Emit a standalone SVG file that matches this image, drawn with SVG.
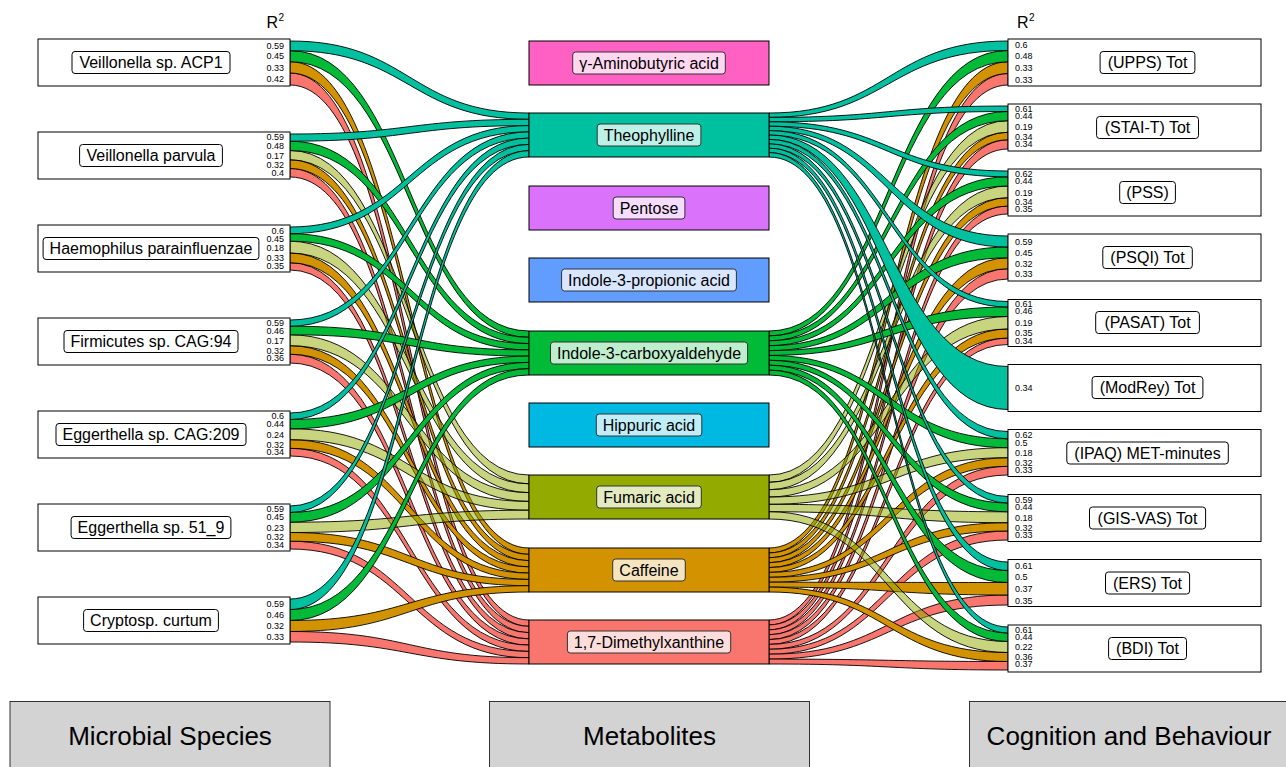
<svg xmlns="http://www.w3.org/2000/svg" width="1286" height="767" viewBox="0 0 1286 767">
<style>
text{font-family:"Liberation Sans",Arial,Helvetica,sans-serif;fill:#000}
.rb{stroke:#000;stroke-width:0.9}
.t{fill:#00C19F}.g{fill:#00BA38}.p{fill:#93AA00;fill-opacity:0.5}.o{fill:#D39200}.d{fill:#F8766D}
.box{fill:#fff;stroke:#000;stroke-width:1}
.mbox{stroke:#000;stroke-width:1}
.lbl{fill:#fff;stroke:#000;stroke-width:1}
.mlbl{stroke:#333;stroke-width:1}
.nt{font-size:16px;text-anchor:middle}
.rl{font-size:9px;text-anchor:end}
.rr{font-size:9px;text-anchor:start}
.cat{fill:#D3D3D3;stroke:#333;stroke-width:1}
.ct{font-size:26px;text-anchor:middle}
</style>
<rect width="1286" height="767" fill="#fff"/>
<g id="connectors">
<g id="left-links">
<path class="rb d" d="M290,73 C409.5,73 409.5,620 529,620 L529,626.3 C409.5,626.3 409.5,85 290,85Z"/>
<path class="rb d" d="M290,168.5 C409.5,168.5 409.5,626.3 529,626.3 L529,632.6 C409.5,632.6 409.5,177 290,177Z"/>
<path class="rb d" d="M290,262.7 C409.5,262.7 409.5,632.6 529,632.6 L529,638.9 C409.5,638.9 409.5,270 290,270Z"/>
<path class="rb d" d="M290,354.2 C409.5,354.2 409.5,638.9 529,638.9 L529,645.1 C409.5,645.1 409.5,363 290,363Z"/>
<path class="rb d" d="M290,448.3 C409.5,448.3 409.5,645.1 529,645.1 L529,651.4 C409.5,651.4 409.5,456 290,456Z"/>
<path class="rb d" d="M290,541.2 C409.5,541.2 409.5,651.4 529,651.4 L529,657.7 C409.5,657.7 409.5,549 290,549Z"/>
<path class="rb d" d="M290,631.5 C409.5,631.5 409.5,657.7 529,657.7 L529,664 C409.5,664 409.5,642 290,642Z"/>
<path class="rb o" d="M290,61.7 C409.5,61.7 409.5,548 529,548 L529,554.3 C409.5,554.3 409.5,73 290,73Z"/>
<path class="rb o" d="M290,159.8 C409.5,159.8 409.5,554.3 529,554.3 L529,560.6 C409.5,560.6 409.5,168.5 290,168.5Z"/>
<path class="rb o" d="M290,253 C409.5,253 409.5,560.6 529,560.6 L529,566.9 C409.5,566.9 409.5,262.7 290,262.7Z"/>
<path class="rb o" d="M290,345.7 C409.5,345.7 409.5,566.9 529,566.9 L529,573.1 C409.5,573.1 409.5,354.2 290,354.2Z"/>
<path class="rb o" d="M290,439.7 C409.5,439.7 409.5,573.1 529,573.1 L529,579.4 C409.5,579.4 409.5,448.3 290,448.3Z"/>
<path class="rb o" d="M290,532.5 C409.5,532.5 409.5,579.4 529,579.4 L529,585.7 C409.5,585.7 409.5,541.2 290,541.2Z"/>
<path class="rb o" d="M290,620.5 C409.5,620.5 409.5,585.7 529,585.7 L529,592 C409.5,592 409.5,631.5 290,631.5Z"/>
<path class="rb p" d="M290,150.5 C409.5,150.5 409.5,475 529,475 L529,483.8 C409.5,483.8 409.5,159.8 290,159.8Z"/>
<path class="rb p" d="M290,241.2 C409.5,241.2 409.5,483.8 529,483.8 L529,492.6 C409.5,492.6 409.5,253 290,253Z"/>
<path class="rb p" d="M290,334.8 C409.5,334.8 409.5,492.6 529,492.6 L529,501.4 C409.5,501.4 409.5,345.7 290,345.7Z"/>
<path class="rb p" d="M290,428.8 C409.5,428.8 409.5,501.4 529,501.4 L529,510.2 C409.5,510.2 409.5,439.7 290,439.7Z"/>
<path class="rb p" d="M290,522.2 C409.5,522.2 409.5,510.2 529,510.2 L529,519 C409.5,519 409.5,532.5 290,532.5Z"/>
<path class="rb g" d="M290,50.7 C409.5,50.7 409.5,331 529,331 L529,337.3 C409.5,337.3 409.5,61.7 290,61.7Z"/>
<path class="rb g" d="M290,141.2 C409.5,141.2 409.5,337.3 529,337.3 L529,343.6 C409.5,343.6 409.5,150.5 290,150.5Z"/>
<path class="rb g" d="M290,233.7 C409.5,233.7 409.5,343.6 529,343.6 L529,349.9 C409.5,349.9 409.5,241.2 290,241.2Z"/>
<path class="rb g" d="M290,326.2 C409.5,326.2 409.5,349.9 529,349.9 L529,356.1 C409.5,356.1 409.5,334.8 290,334.8Z"/>
<path class="rb g" d="M290,419.5 C409.5,419.5 409.5,356.1 529,356.1 L529,362.4 C409.5,362.4 409.5,428.8 290,428.8Z"/>
<path class="rb g" d="M290,512.5 C409.5,512.5 409.5,362.4 529,362.4 L529,368.7 C409.5,368.7 409.5,522.2 290,522.2Z"/>
<path class="rb g" d="M290,609.5 C409.5,609.5 409.5,368.7 529,368.7 L529,375 C409.5,375 409.5,620.5 290,620.5Z"/>
<path class="rb t" d="M290,41 C409.5,41 409.5,113 529,113 L529,119.3 C409.5,119.3 409.5,50.7 290,50.7Z"/>
<path class="rb t" d="M290,134 C409.5,134 409.5,119.3 529,119.3 L529,125.6 C409.5,125.6 409.5,141.2 290,141.2Z"/>
<path class="rb t" d="M290,227 C409.5,227 409.5,125.6 529,125.6 L529,131.9 C409.5,131.9 409.5,233.7 290,233.7Z"/>
<path class="rb t" d="M290,320 C409.5,320 409.5,131.9 529,131.9 L529,138.1 C409.5,138.1 409.5,326.2 290,326.2Z"/>
<path class="rb t" d="M290,413 C409.5,413 409.5,138.1 529,138.1 L529,144.4 C409.5,144.4 409.5,419.5 290,419.5Z"/>
<path class="rb t" d="M290,506 C409.5,506 409.5,144.4 529,144.4 L529,150.7 C409.5,150.7 409.5,512.5 290,512.5Z"/>
<path class="rb t" d="M290,599 C409.5,599 409.5,150.7 529,150.7 L529,157 C409.5,157 409.5,609.5 290,609.5Z"/>
</g>
<g id="right-links">
<path class="rb d" d="M769,620 C888.5,620 888.5,73.5 1008,73.5 L1008,85 C888.5,85 888.5,624.9 769,624.9Z"/>
<path class="rb d" d="M769,624.9 C888.5,624.9 888.5,139.8 1008,139.8 L1008,149 C888.5,149 888.5,629.8 769,629.8Z"/>
<path class="rb d" d="M769,629.8 C888.5,629.8 888.5,206 1008,206 L1008,214 C888.5,214 888.5,634.7 769,634.7Z"/>
<path class="rb d" d="M769,634.7 C888.5,634.7 888.5,268.7 1008,268.7 L1008,279 C888.5,279 888.5,639.6 769,639.6Z"/>
<path class="rb d" d="M769,639.6 C888.5,639.6 888.5,338 1008,338 L1008,344.5 C888.5,344.5 888.5,644.4 769,644.4Z"/>
<path class="rb d" d="M769,644.4 C888.5,644.4 888.5,466.3 1008,466.3 L1008,475 C888.5,475 888.5,649.3 769,649.3Z"/>
<path class="rb d" d="M769,649.3 C888.5,649.3 888.5,531 1008,531 L1008,540 C888.5,540 888.5,654.2 769,654.2Z"/>
<path class="rb d" d="M769,654.2 C888.5,654.2 888.5,595 1008,595 L1008,605 C888.5,605 888.5,659.1 769,659.1Z"/>
<path class="rb d" d="M769,659.1 C888.5,659.1 888.5,661.5 1008,661.5 L1008,670 C888.5,670 888.5,664 769,664Z"/>
<path class="rb o" d="M769,548 C888.5,548 888.5,61.8 1008,61.8 L1008,73.5 C888.5,73.5 888.5,552.9 769,552.9Z"/>
<path class="rb o" d="M769,552.9 C888.5,552.9 888.5,132.3 1008,132.3 L1008,139.8 C888.5,139.8 888.5,557.8 769,557.8Z"/>
<path class="rb o" d="M769,557.8 C888.5,557.8 888.5,197.7 1008,197.7 L1008,206 C888.5,206 888.5,562.7 769,562.7Z"/>
<path class="rb o" d="M769,562.7 C888.5,562.7 888.5,257.8 1008,257.8 L1008,268.7 C888.5,268.7 888.5,567.6 769,567.6Z"/>
<path class="rb o" d="M769,567.6 C888.5,567.6 888.5,329 1008,329 L1008,338 C888.5,338 888.5,572.4 769,572.4Z"/>
<path class="rb o" d="M769,572.4 C888.5,572.4 888.5,457.7 1008,457.7 L1008,466.3 C888.5,466.3 888.5,577.3 769,577.3Z"/>
<path class="rb o" d="M769,577.3 C888.5,577.3 888.5,522.7 1008,522.7 L1008,531 C888.5,531 888.5,582.2 769,582.2Z"/>
<path class="rb o" d="M769,582.2 C888.5,582.2 888.5,582.5 1008,582.5 L1008,595 C888.5,595 888.5,587.1 769,587.1Z"/>
<path class="rb o" d="M769,587.1 C888.5,587.1 888.5,652.5 1008,652.5 L1008,661.5 C888.5,661.5 888.5,592 769,592Z"/>
<path class="rb p" d="M769,475 C888.5,475 888.5,120.7 1008,120.7 L1008,132.3 C888.5,132.3 888.5,482.3 769,482.3Z"/>
<path class="rb p" d="M769,482.3 C888.5,482.3 888.5,186 1008,186 L1008,197.7 C888.5,197.7 888.5,489.7 769,489.7Z"/>
<path class="rb p" d="M769,489.7 C888.5,489.7 888.5,316.5 1008,316.5 L1008,329 C888.5,329 888.5,497 769,497Z"/>
<path class="rb p" d="M769,497 C888.5,497 888.5,447.7 1008,447.7 L1008,457.7 C888.5,457.7 888.5,504.3 769,504.3Z"/>
<path class="rb p" d="M769,504.3 C888.5,504.3 888.5,511.8 1008,511.8 L1008,522.7 C888.5,522.7 888.5,511.7 769,511.7Z"/>
<path class="rb p" d="M769,511.7 C888.5,511.7 888.5,641.5 1008,641.5 L1008,652.5 C888.5,652.5 888.5,519 769,519Z"/>
<path class="rb g" d="M769,331 C888.5,331 888.5,50.5 1008,50.5 L1008,61.8 C888.5,61.8 888.5,335.9 769,335.9Z"/>
<path class="rb g" d="M769,335.9 C888.5,335.9 888.5,111.5 1008,111.5 L1008,120.7 C888.5,120.7 888.5,340.8 769,340.8Z"/>
<path class="rb g" d="M769,340.8 C888.5,340.8 888.5,176.8 1008,176.8 L1008,186 C888.5,186 888.5,345.7 769,345.7Z"/>
<path class="rb g" d="M769,345.7 C888.5,345.7 888.5,247 1008,247 L1008,257.8 C888.5,257.8 888.5,350.6 769,350.6Z"/>
<path class="rb g" d="M769,350.6 C888.5,350.6 888.5,307 1008,307 L1008,316.5 C888.5,316.5 888.5,355.4 769,355.4Z"/>
<path class="rb g" d="M769,355.4 C888.5,355.4 888.5,438.8 1008,438.8 L1008,447.7 C888.5,447.7 888.5,360.3 769,360.3Z"/>
<path class="rb g" d="M769,360.3 C888.5,360.3 888.5,503 1008,503 L1008,511.8 C888.5,511.8 888.5,365.2 769,365.2Z"/>
<path class="rb g" d="M769,365.2 C888.5,365.2 888.5,570.5 1008,570.5 L1008,582.5 C888.5,582.5 888.5,370.1 769,370.1Z"/>
<path class="rb g" d="M769,370.1 C888.5,370.1 888.5,633 1008,633 L1008,641.5 C888.5,641.5 888.5,375 769,375Z"/>
<path class="rb t" d="M769,113 C888.5,113 888.5,41 1008,41 L1008,50.5 C888.5,50.5 888.5,117.4 769,117.4Z"/>
<path class="rb t" d="M769,117.4 C888.5,117.4 888.5,106 1008,106 L1008,111.5 C888.5,111.5 888.5,121.8 769,121.8Z"/>
<path class="rb t" d="M769,121.8 C888.5,121.8 888.5,171 1008,171 L1008,176.8 C888.5,176.8 888.5,126.2 769,126.2Z"/>
<path class="rb t" d="M769,126.2 C888.5,126.2 888.5,236 1008,236 L1008,247 C888.5,247 888.5,130.6 769,130.6Z"/>
<path class="rb t" d="M769,130.6 C888.5,130.6 888.5,301.5 1008,301.5 L1008,307 C888.5,307 888.5,135 769,135Z"/>
<path class="rb t" d="M769,135 C888.5,135 888.5,366.5 1008,366.5 L1008,409.5 C888.5,409.5 888.5,139.4 769,139.4Z"/>
<path class="rb t" d="M769,139.4 C888.5,139.4 888.5,431.5 1008,431.5 L1008,438.8 C888.5,438.8 888.5,143.8 769,143.8Z"/>
<path class="rb t" d="M769,143.8 C888.5,143.8 888.5,496.5 1008,496.5 L1008,503 C888.5,503 888.5,148.2 769,148.2Z"/>
<path class="rb t" d="M769,148.2 C888.5,148.2 888.5,562 1008,562 L1008,570.5 C888.5,570.5 888.5,152.6 769,152.6Z"/>
<path class="rb t" d="M769,152.6 C888.5,152.6 888.5,627 1008,627 L1008,633 C888.5,633 888.5,157 769,157Z"/>
</g>
</g>
<g id="header">
<text x="266.5" y="28" style="font-size:16px">R</text><text x="278.5" y="20.5" style="font-size:10px">2</text>
<text x="1017" y="28" style="font-size:16px">R</text><text x="1029" y="20.5" style="font-size:10px">2</text>
</g>
<g id="n-veillonella-acp1"><rect class="box" x="38" y="39" width="252" height="47"/><rect class="lbl" x="72" y="51.5" width="158" height="22" rx="3"/><text class="nt" x="151" y="68.2">Veillonella sp. ACP1</text>
<text class="rl" x="284" y="49">0.59</text><text class="rl" x="284" y="59">0.45</text><text class="rl" x="284" y="71">0.33</text><text class="rl" x="284" y="81.6">0.42</text></g>
<g id="n-veillonella-parvula"><rect class="box" x="38" y="132" width="252" height="47"/><rect class="lbl" x="79.6" y="144.5" width="142.8" height="22" rx="3"/><text class="nt" x="151" y="161.2">Veillonella parvula</text>
<text class="rl" x="284" y="140">0.59</text><text class="rl" x="284" y="149">0.48</text><text class="rl" x="284" y="158.6">0.17</text><text class="rl" x="284" y="167.6">0.32</text><text class="rl" x="284" y="176">0.4</text></g>
<g id="n-haemophilus"><rect class="box" x="38" y="225" width="252" height="47"/><rect class="lbl" x="43.1" y="237.5" width="215.8" height="22" rx="3"/><text class="nt" x="151" y="254.2">Haemophilus parainfluenzae</text>
<text class="rl" x="284" y="234.3">0.6</text><text class="rl" x="284" y="241.5">0.45</text><text class="rl" x="284" y="250.5">0.18</text><text class="rl" x="284" y="261.3">0.33</text><text class="rl" x="284" y="269">0.35</text></g>
<g id="n-firmicutes"><rect class="box" x="38" y="318" width="252" height="47"/><rect class="lbl" x="64" y="330.5" width="174" height="22" rx="3"/><text class="nt" x="151" y="347.2">Firmicutes sp. CAG:94</text>
<text class="rl" x="284" y="326.4">0.59</text><text class="rl" x="284" y="333.6">0.46</text><text class="rl" x="284" y="344">0.17</text><text class="rl" x="284" y="353.8">0.32</text><text class="rl" x="284" y="361.2">0.36</text></g>
<g id="n-eggerthella-cag209"><rect class="box" x="38" y="411" width="252" height="47"/><rect class="lbl" x="56" y="423.5" width="190" height="22" rx="3"/><text class="nt" x="151" y="440.2">Eggerthella sp. CAG:209</text>
<text class="rl" x="284" y="419">0.6</text><text class="rl" x="284" y="426.6">0.44</text><text class="rl" x="284" y="437.6">0.24</text><text class="rl" x="284" y="448">0.32</text><text class="rl" x="284" y="455.3">0.34</text></g>
<g id="n-eggerthella-51-9"><rect class="box" x="38" y="504" width="252" height="47"/><rect class="lbl" x="71.1" y="516.5" width="159.8" height="22" rx="3"/><text class="nt" x="151" y="533.2">Eggerthella sp. 51_9</text>
<text class="rl" x="284" y="511.6">0.59</text><text class="rl" x="284" y="519.6">0.45</text><text class="rl" x="284" y="530.8">0.23</text><text class="rl" x="284" y="540.4">0.32</text><text class="rl" x="284" y="548">0.34</text></g>
<g id="n-cryptosp"><rect class="box" x="38" y="597" width="252" height="47"/><rect class="lbl" x="83.6" y="609.5" width="134.8" height="22" rx="3"/><text class="nt" x="151" y="626.2">Cryptosp. curtum</text>
<text class="rl" x="284" y="607.3">0.59</text><text class="rl" x="284" y="618.3">0.46</text><text class="rl" x="284" y="629.3">0.32</text><text class="rl" x="284" y="640.3">0.33</text></g>
<g id="m-gaba"><rect class="mbox" x="529" y="41" width="240" height="44" fill="#FF61C3"/><rect class="mlbl" x="572.7" y="52" width="152.6" height="22" rx="3" fill="#FFD7F0"/><text class="nt" x="649" y="68.7">γ-Aminobutyric acid</text></g>
<g id="m-theophylline"><rect class="mbox" x="529" y="113" width="240" height="44" fill="#00C19F"/><rect class="mlbl" x="597.2" y="124" width="103.7" height="22" rx="3" fill="#BFF0E7"/><text class="nt" x="649" y="140.7">Theophylline</text></g>
<g id="m-pentose"><rect class="mbox" x="529" y="186" width="240" height="44" fill="#DB72FB"/><rect class="mlbl" x="613.2" y="197" width="71.7" height="22" rx="3" fill="#F6DCFE"/><text class="nt" x="649" y="213.7">Pentose</text></g>
<g id="m-indole-propionic"><rect class="mbox" x="529" y="258" width="240" height="44" fill="#619CFF"/><rect class="mlbl" x="561.6" y="269" width="174.8" height="22" rx="3" fill="#D8E6FF"/><text class="nt" x="649" y="285.7">Indole-3-propionic acid</text></g>
<g id="m-indole-carboxyaldehyde"><rect class="mbox" x="529" y="331" width="240" height="44" fill="#00BA38"/><rect class="mlbl" x="550.5" y="342" width="197.1" height="22" rx="3" fill="#BFEECD"/><text class="nt" x="649" y="358.7">Indole-3-carboxyaldehyde</text></g>
<g id="m-hippuric"><rect class="mbox" x="529" y="403" width="240" height="44" fill="#00B9E3"/><rect class="mlbl" x="596.3" y="414" width="105.5" height="22" rx="3" fill="#BFEDF8"/><text class="nt" x="649" y="430.7">Hippuric acid</text></g>
<g id="m-fumaric"><rect class="mbox" x="529" y="475" width="240" height="44" fill="#93AA00"/><rect class="mlbl" x="596.7" y="486" width="104.6" height="22" rx="3" fill="#E4EABF"/><text class="nt" x="649" y="502.7">Fumaric acid</text></g>
<g id="m-caffeine"><rect class="mbox" x="529" y="548" width="240" height="44" fill="#D39200"/><rect class="mlbl" x="612.7" y="559" width="72.6" height="22" rx="3" fill="#F4E4BF"/><text class="nt" x="649" y="575.7">Caffeine</text></g>
<g id="m-dimethylxanthine"><rect class="mbox" x="529" y="620" width="240" height="44" fill="#F8766D"/><rect class="mlbl" x="567.4" y="631" width="163.3" height="22" rx="3" fill="#FDDDDB"/><text class="nt" x="649" y="647.7">1,7-Dimethylxanthine</text></g>
<g id="o-upps"><rect class="box" x="1008" y="39" width="253" height="47"/><rect class="lbl" x="1100.1" y="51.5" width="94.8" height="22" rx="3"/><text class="nt" x="1147.5" y="68.2">(UPPS) Tot</text>
<text class="rr" x="1015" y="48.3">0.6</text><text class="rr" x="1015" y="59.3">0.48</text><text class="rr" x="1015" y="71">0.33</text><text class="rr" x="1015" y="82.6">0.33</text></g>
<g id="o-stai"><rect class="box" x="1008" y="104" width="253" height="47"/><rect class="lbl" x="1096.6" y="116.5" width="101.9" height="22" rx="3"/><text class="nt" x="1147.5" y="133.2">(STAI-T) Tot</text>
<text class="rr" x="1015" y="111.5">0.61</text><text class="rr" x="1015" y="118.7">0.44</text><text class="rr" x="1015" y="130.3">0.19</text><text class="rr" x="1015" y="139.6">0.34</text><text class="rr" x="1015" y="146.8">0.34</text></g>
<g id="o-pss"><rect class="box" x="1008" y="169" width="253" height="47"/><rect class="lbl" x="1119.7" y="181.5" width="55.7" height="22" rx="3"/><text class="nt" x="1147.5" y="198.2">(PSS)</text>
<text class="rr" x="1015" y="176.5">0.62</text><text class="rr" x="1015" y="183.7">0.44</text><text class="rr" x="1015" y="195.5">0.19</text><text class="rr" x="1015" y="205">0.34</text><text class="rr" x="1015" y="212.3">0.35</text></g>
<g id="o-psqi"><rect class="box" x="1008" y="234" width="253" height="47"/><rect class="lbl" x="1102.8" y="246.5" width="89.5" height="22" rx="3"/><text class="nt" x="1147.5" y="263.2">(PSQI) Tot</text>
<text class="rr" x="1015" y="245">0.59</text><text class="rr" x="1015" y="255.6">0.45</text><text class="rr" x="1015" y="266.6">0.32</text><text class="rr" x="1015" y="277.3">0.33</text></g>
<g id="o-pasat"><rect class="box" x="1008" y="299.5" width="253" height="47"/><rect class="lbl" x="1095.7" y="311.5" width="103.7" height="22" rx="3"/><text class="nt" x="1147.5" y="328.2">(PASAT) Tot</text>
<text class="rr" x="1015" y="306.8">0.61</text><text class="rr" x="1015" y="314">0.46</text><text class="rr" x="1015" y="325.5">0.19</text><text class="rr" x="1015" y="336.4">0.35</text><text class="rr" x="1015" y="343.6">0.34</text></g>
<g id="o-modrey"><rect class="box" x="1008" y="364.5" width="253" height="47"/><rect class="lbl" x="1092.1" y="376.5" width="110.8" height="22" rx="3"/><text class="nt" x="1147.5" y="393.2">(ModRey) Tot</text>
<text class="rr" x="1015" y="391.3">0.34</text></g>
<g id="o-ipaq"><rect class="box" x="1008" y="429.5" width="253" height="47"/><rect class="lbl" x="1066.8" y="442" width="161.5" height="22" rx="3"/><text class="nt" x="1147.5" y="458.7">(IPAQ) MET-minutes</text>
<text class="rr" x="1015" y="438.3">0.62</text><text class="rr" x="1015" y="446">0.5</text><text class="rr" x="1015" y="456">0.18</text><text class="rr" x="1015" y="466">0.32</text><text class="rr" x="1015" y="473.4">0.33</text></g>
<g id="o-gisvas"><rect class="box" x="1008" y="494.5" width="253" height="47"/><rect class="lbl" x="1089.5" y="507" width="116.1" height="22" rx="3"/><text class="nt" x="1147.5" y="523.7">(GIS-VAS) Tot</text>
<text class="rr" x="1015" y="502.8">0.59</text><text class="rr" x="1015" y="510">0.44</text><text class="rr" x="1015" y="521">0.18</text><text class="rr" x="1015" y="530.8">0.32</text><text class="rr" x="1015" y="538">0.33</text></g>
<g id="o-ers"><rect class="box" x="1008" y="559.5" width="253" height="47"/><rect class="lbl" x="1105.5" y="572" width="84.1" height="22" rx="3"/><text class="nt" x="1147.5" y="588.7">(ERS) Tot</text>
<text class="rr" x="1015" y="568.8">0.61</text><text class="rr" x="1015" y="579.8">0.5</text><text class="rr" x="1015" y="592.3">0.37</text><text class="rr" x="1015" y="604">0.35</text></g>
<g id="o-bdi"><rect class="box" x="1008" y="625" width="253" height="47"/><rect class="lbl" x="1108.6" y="637.5" width="77.9" height="22" rx="3"/><text class="nt" x="1147.5" y="654.2">(BDI) Tot</text>
<text class="rr" x="1015" y="632.6">0.61</text><text class="rr" x="1015" y="639.8">0.44</text><text class="rr" x="1015" y="650">0.22</text><text class="rr" x="1015" y="660.2">0.36</text><text class="rr" x="1015" y="667.4">0.37</text></g>
<g id="cat-microbial"><rect class="cat" x="10" y="701.5" width="320" height="80"/><text class="ct" x="170" y="745">Microbial Species</text></g>
<g id="cat-metabolites"><rect class="cat" x="489.5" y="701.5" width="320" height="80"/><text class="ct" x="649.5" y="745">Metabolites</text></g>
<g id="cat-cognition"><rect class="cat" x="969.5" y="701.5" width="320" height="80"/><text class="ct" x="1129" y="745">Cognition and Behaviour</text></g>
</svg>
